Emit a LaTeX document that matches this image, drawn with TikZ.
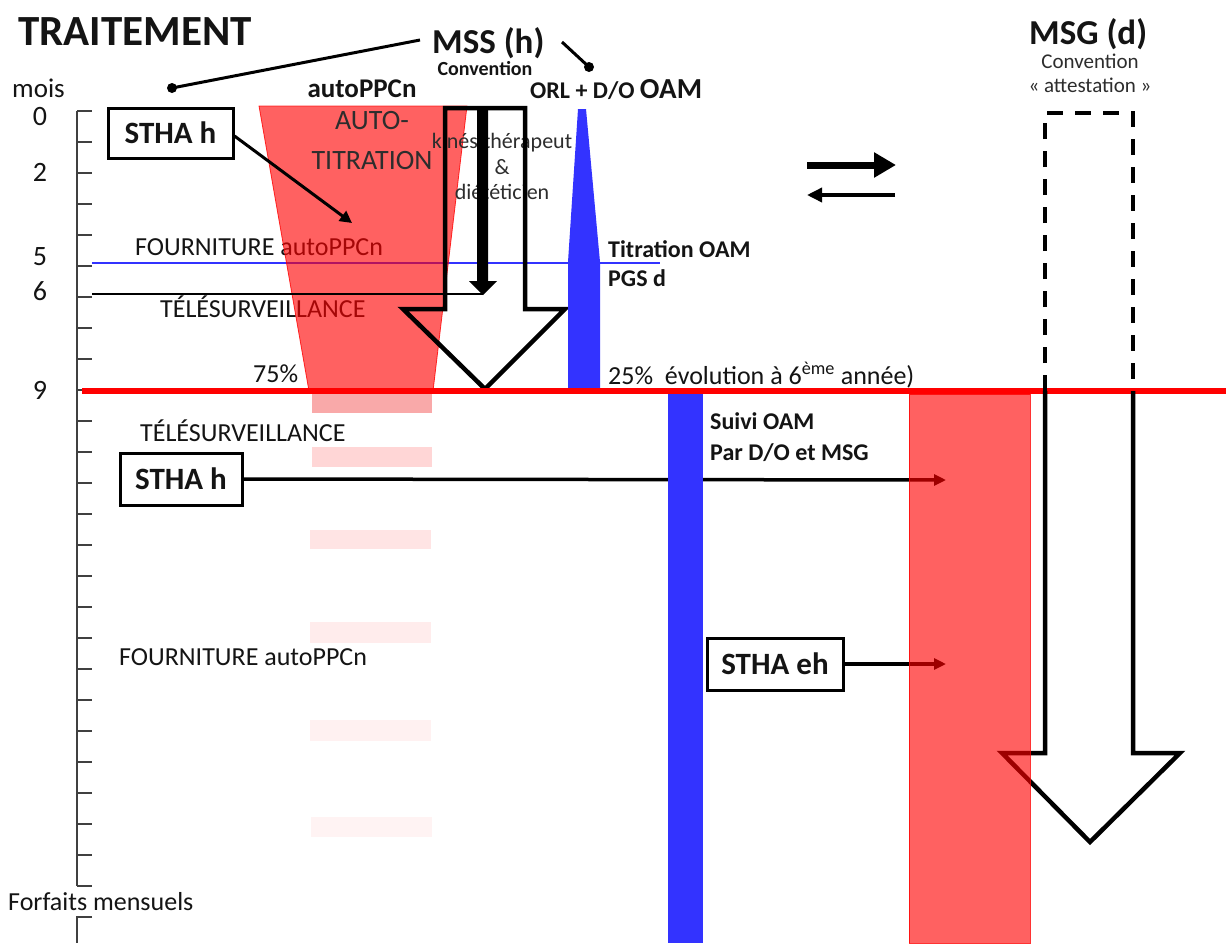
\documentclass[tikz,border=0pt]{standalone}
\usepackage{fontspec}
\setmainfont{Carlito}
\usetikzlibrary{arrows.meta}
\newcommand\fsz[1]{\fontsize{#1}{#1}\selectfont}
\definecolor{bblue}{RGB}{51,51,255}
\definecolor{txt}{RGB}{20,20,20}
\definecolor{gtxt}{RGB}{45,45,45}
\begin{document}
\begin{tikzpicture}[x=1pt,y=-1pt,
  lbl/.style={inner sep=0pt, text=txt, font=\fsz{26}},
  bl/.style={inner sep=0pt, text=txt, font=\bfseries\fsz{24}},
  boxn/.style={draw=black, line width=3pt, fill=white, inner sep=0pt, font=\bfseries\fsz{31}, text=txt},
  tickl/.style={draw=black!75, line width=1.3pt},
  hollow/.style={draw=black, line width=4.5pt, line join=miter},
  reda/.style={fill=red, fill opacity=0.62, draw=red, draw opacity=0.8, line width=0.8pt},
  lead/.style={draw=black, line width=3pt},
  conn/.style={draw=black, line width=3.5pt},
]
\fill[white] (0,0) rectangle (1226,943);
\useasboundingbox (0,0) rectangle (1226,943);

% ---- axis
\draw[tickl] (77,111) -- (77,886);
\foreach \k in {0,...,25} \draw[tickl] (77,{111+31*\k}) -- (92,{111+31*\k});
\draw[tickl] (92,917) -- (77,917) -- (77,943);

\node[lbl, anchor=base west, font=\fsz{27}] (mois) at (12,97) {mois};
\node[lbl, font=\fsz{28}] (m0) at (40,117) {0};
\node[lbl, font=\fsz{28}] (m2) at (40,172) {2};
\node[lbl, font=\fsz{28}] (m5) at (40,257) {5};
\node[lbl, font=\fsz{28}] (m6) at (40,291) {6};
\node[lbl, font=\fsz{28}] (m9) at (40,390) {9};
\node[lbl, anchor=base west] (forf) at (8,910) {Forfaits mensuels};

% ---- titles
\node[inner sep=0pt, anchor=base west, font=\bfseries\fsz{43}, text=txt] (trait) at (18,45) {TRAITEMENT};
\node[inner sep=0pt, anchor=base west, font=\bfseries\fsz{35}, text=txt] (mss) at (432,53) {MSS (h)};
\node[inner sep=0pt, anchor=base, font=\bfseries\fsz{20}, text=txt] (conv1) at (485,75) {Convention};
\node[inner sep=0pt, anchor=base west, font=\bfseries\fsz{35}, text=txt] (msg) at (1029,44) {MSG (d)};
\node[inner sep=0pt, anchor=base, font=\fsz{21}, text=gtxt] (conv2) at (1090,68) {Convention};
\node[inner sep=0pt, anchor=base, font=\fsz{21}, text=gtxt] (attest) at (1090,92) {« attestation »};

% leaders
\coordinate (dot1) at (172,88);
\coordinate (dot2) at (589,67);
\coordinate (l1) at (420,40);
\coordinate (l2) at (562,42);
\draw[lead] (l1) -- (dot1);
\fill (dot1) circle (5);
\draw[lead] (l2) -- (dot2);
\fill (dot2) circle (5);

% ---- horizontal month lines
\coordinate (b5a) at (92,263);
\coordinate (b5b) at (660,263);
\coordinate (b6a) at (92,294);
\draw[bblue, line width=1.6pt] (b5a) -- (b5b);

% ---- upper texts
\node[lbl, anchor=base west] (four1) at (135,255) {FOURNITURE autoPPCn};
\node[lbl, anchor=base west] (tele1) at (160,317) {TÉLÉSURVEILLANCE};
\node[inner sep=0pt, anchor=base, font=\bfseries\fsz{27}, text=txt] (auto) at (362,97) {autoPPCn};

% red trapezoid
\path[reda] (259,106) -- (467,106) -- (433,391) -- (309,391) -- cycle;
\node[inner sep=0pt, font=\fsz{28}, text=gtxt] (at1) at (372,121) {AUTO-};
\node[inner sep=0pt, font=\fsz{28}, text=gtxt] (at2) at (372,161) {TITRATION};

% kine text
\node[inner sep=0pt, font=\fsz{22}, text=gtxt] (kin1) at (502,143) {kinésithérapeut};
\node[inner sep=0pt, font=\fsz{22}, text=gtxt] (kin2) at (502,167) {\&};
\node[inner sep=0pt, font=\fsz{22}, text=gtxt] (kin3) at (502,192) {diététicien};

% big hollow arrow
\draw[hollow] (445,108) -- (525,108) -- (525,309) -- (565,309) -- (485,389) -- (403,309) -- (445,309) -- cycle;
% inner solid arrow
\fill[black] (477,108) -- (488,108) -- (488,281) -- (497,281) -- (483,295) -- (469,281) -- (477,281) -- cycle;
\coordinate (tip6) at (483,294);
\draw[black, line width=1.2pt] (b6a) -- (tip6);

% blue spike
\fill[bblue] (578,109) -- (586,109) -- (600,262) -- (600,391) -- (568,391) -- (568,262) -- cycle;

\node[inner sep=0pt, anchor=base west, font=\bfseries\fsz{24}, text=txt] (orl) at (530,98) {ORL + D/O {\fsz{29}OAM}};
\node[bl, anchor=base west] (titr) at (608,257) {Titration OAM};
\node[bl, anchor=base west] (pgs) at (608,286) {PGS d};

% STHA h top
\node[boxn, minimum width=125pt, minimum height=50pt] (stha1) at (170.5,133) {STHA h};
\coordinate (sthatip) at (352,223);
\draw[conn, line width=3pt, -{Triangle[length=12pt,width=12pt]}] (stha1.east |- 0,136) -- (sthatip);

% double arrows
\coordinate (da1) at (807,165);
\coordinate (da2) at (896,165);
\coordinate (db1) at (807,195);
\coordinate (db2) at (895,195);
\draw[line width=7pt, -{Triangle[length=22pt,width=24pt]}] (da1) -- (da2);
\draw[line width=3.5pt, -{Triangle[length=15pt,width=14pt]}] (db2) -- (db1);

% 9 month line
\draw[red, line width=6pt] (82,391) -- (1226,391);
\node[lbl, anchor=base west] (p75) at (253,382) {75\%};
\node[lbl, anchor=base west] (p25) at (608,384) {25\%\ \ évolution à 6\textsuperscript{ème} année)};

% pale bars
\fill[fill={rgb,255:red,249;green,169;blue,169}] (312,394) rectangle (432,413);
\fill[fill={rgb,255:red,255;green,214;blue,214}] (312,447) rectangle (432,467);
\fill[fill={rgb,255:red,255;green,228;blue,228}] (310,530) rectangle (431,549);
\fill[fill={rgb,255:red,255;green,236;blue,236}] (310,622) rectangle (431,643);
\fill[fill={rgb,255:red,255;green,241;blue,241}] (310,720) rectangle (431,741);
\fill[fill={rgb,255:red,255;green,243;blue,243}] (311,817) rectangle (432,837);

% lower texts
\node[lbl, anchor=base west] (tele2) at (140,441) {TÉLÉSURVEILLANCE};
\node[lbl, anchor=base west] (four2) at (119,665) {FOURNITURE autoPPCn};

% STHA h lower
\node[boxn, minimum width=122pt, minimum height=52pt] (stha2) at (181,479) {STHA h};
\coordinate (t1) at (946,480);
\draw[conn, -{Triangle[length=12pt,width=11pt]}] (stha2.east) -- (t1);

% lower blue bar
\fill[bblue] (668,394) rectangle (703,943);
\node[bl, anchor=base west] (suivi) at (710,429) {Suivi OAM};
\node[bl, anchor=base west] (pardo) at (710,460) {Par D/O et MSG};

% STHA eh
\node[boxn, minimum width=136pt, minimum height=52pt] (stha3) at (775,664) {STHA eh};
\coordinate (t2) at (946,664);
\draw[conn, -{Triangle[length=12pt,width=11pt]}] (stha3.east) -- (t2);

% MSG arrow
\draw[line width=4.5pt, dash pattern=on 16pt off 12pt] (1045,391) -- (1045,113) -- (1133,113) -- (1133,391);
\draw[hollow] (1045,391) -- (1045,753) -- (1002,753) -- (1090,842) -- (1180,753) -- (1133,753) -- (1133,391);

% red column
\path[reda] (909,394) rectangle (1030,943);
\end{tikzpicture}
\end{document}
